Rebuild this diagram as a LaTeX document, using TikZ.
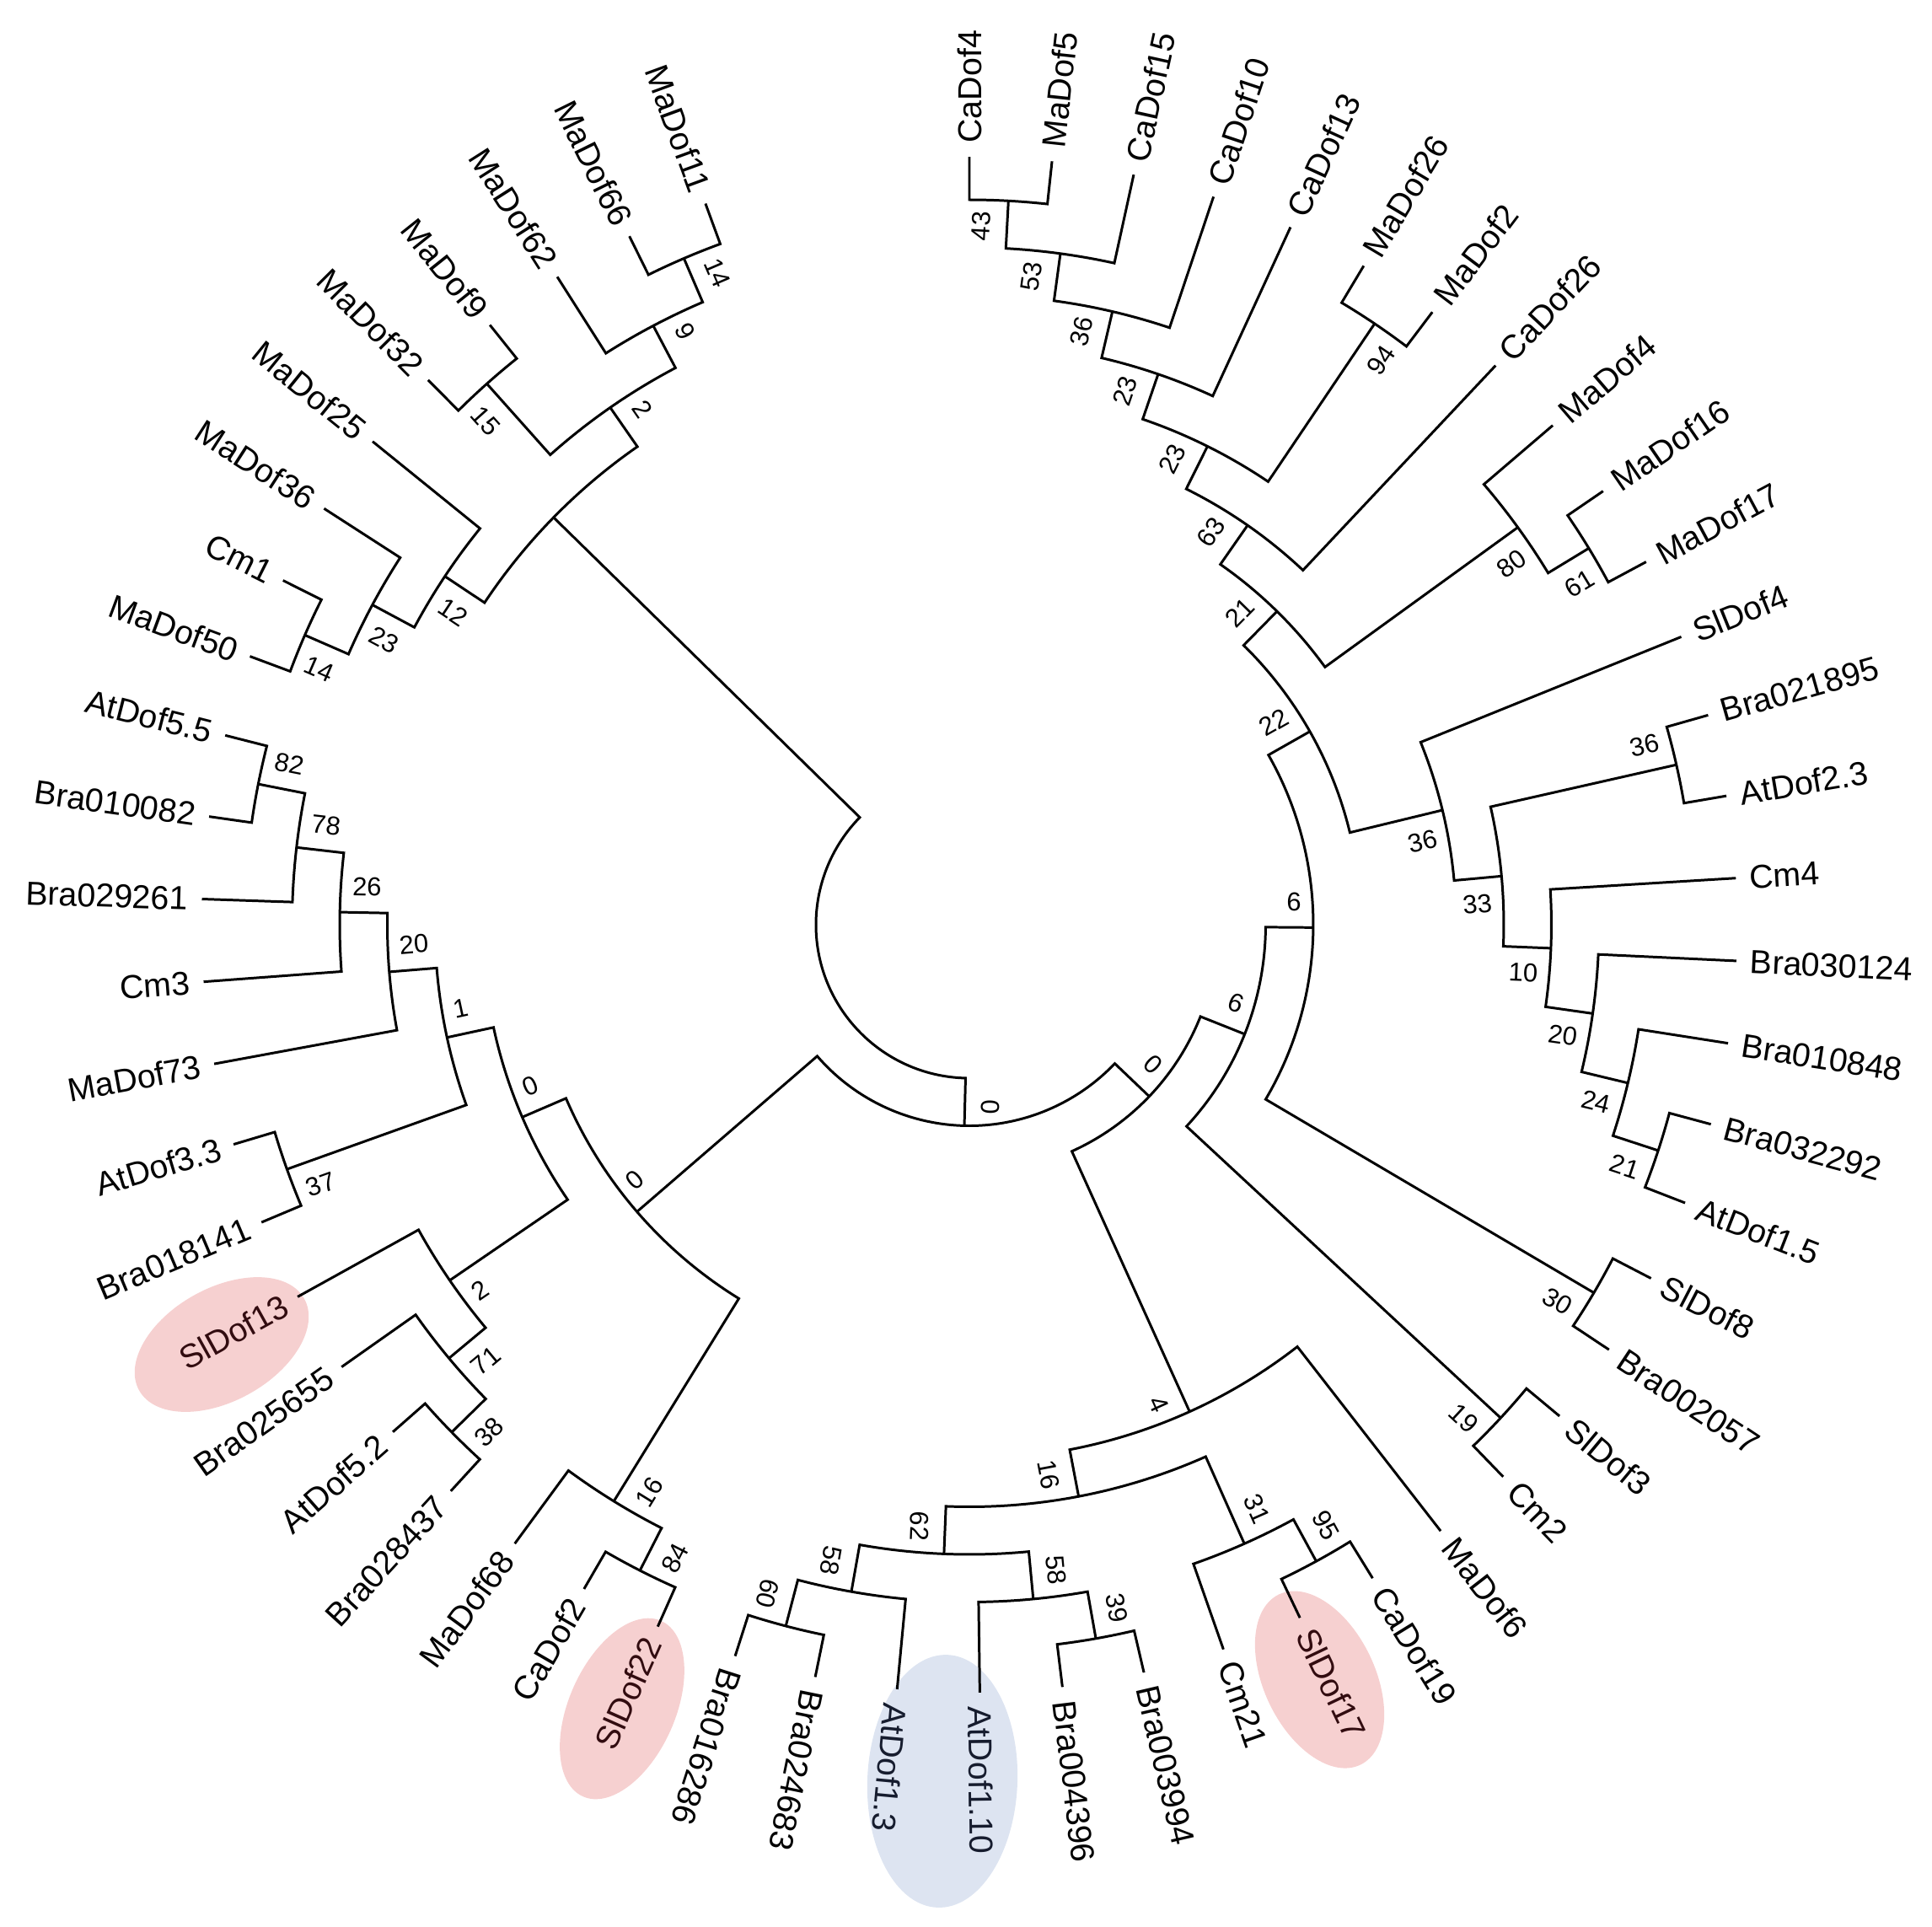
\documentclass[tikz,border=0pt]{standalone}
\usepackage{fontspec}
\setmainfont{Liberation Sans}
\definecolor{slpink}{RGB}{246,208,208}
\definecolor{atblue}{RGB}{221,228,241}
\definecolor{sltext}{RGB}{50,12,16}
\definecolor{attext}{RGB}{22,28,46}
\begin{document}
\begin{tikzpicture}[line width=0.85pt,
    leaf/.style = {font=\fontsize{11.2}{13}\selectfont, inner xsep=0.15cm, inner ysep=0pt},
    bs/.style = {font=\fontsize{8.8}{10}\selectfont, inner xsep=0.05cm, inner ysep=0.18cm}]

	\useasboundingbox (-11.50,-11.88) rectangle (11.42,10.97);

	% highlights
	\fill[slpink, rotate around={29:(-8.87,-4.98)}] (-8.87,-4.98) ellipse [x radius=1.12, y radius=0.67];
	\fill[slpink, rotate around={66.06:(-4.12,-9.30)}] (-4.12,-9.30) ellipse [x radius=1.14, y radius=0.63];
	\fill[slpink, rotate around={-64.5:(4.155,-8.955)}] (4.155,-8.955) ellipse [x radius=1.12, y radius=0.66];
	\fill[atblue, rotate around={-2.3:(-0.32,-10.16)}] (-0.32,-10.16) ellipse [x radius=0.89, y radius=1.50];

	% leaves
	\foreach \i/\txt/\col in {1/CaDof4/black, 2/MaDof5/black, 3/CaDof15/black, 4/CaDof10/black,
	    5/CaDof13/black, 6/MaDof26/black, 7/MaDof2/black, 8/CaDof26/black, 9/MaDof4/black,
	    10/MaDof16/black, 11/MaDof17/black, 12/SlDof4/black, 13/Bra021895/black, 14/AtDof2.3/black,
	    15/Cm4/black, 16/Bra030124/black, 17/Bra010848/black, 18/Bra032292/black, 19/AtDof1.5/black,
	    20/SlDof8/black, 21/Bra002057/black, 22/SlDof3/black, 23/Cm2/black, 24/MaDof6/black,
	    25/CaDof19/black, 26/SlDof17/sltext, 27/Cm21/black, 28/Bra003994/black, 29/Bra004396/black,
	    30/AtDof1.10/attext, 31/AtDof1.3/attext, 32/Bra024683/black, 33/Bra016286/black,
	    34/SlDof22/sltext, 35/CaDof2/black, 36/MaDof68/black, 37/Bra028437/black, 38/AtDof5.2/black,
	    39/Bra025655/black, 40/SlDof13/sltext, 41/Bra018141/black, 42/AtDof3.3/black, 43/MaDof73/black,
	    44/Cm3/black, 45/Bra029261/black, 46/Bra010082/black, 47/AtDof5.5/black, 48/MaDof50/black,
	    49/Cm1/black, 50/MaDof36/black, 51/MaDof25/black, 52/MaDof32/black, 53/MaDof9/black,
	    54/MaDof62/black, 55/MaDof66/black, 56/MaDof11/black} {
		\pgfmathsetmacro\ang{90-(\i-1)*6.18}
		\coordinate (l\i) at (\ang:9.11);
		\ifnum\i<34
			\node[leaf, text=\col, anchor=west, rotate=\ang] (t\i) at (l\i) {\txt};
		\else
			\pgfmathsetmacro\rot{\ang+180}
			\node[leaf, text=\col, anchor=east, rotate=\rot] (t\i) at (l\i) {\txt};
		\fi
	}

	% inner nodes
	\coordinate (n43) at (86.91:8.600);
	\coordinate (n53) at (82.275:8.035);
	\coordinate (n36a) at (76.8675:7.470);
	\coordinate (n23a) at (71.074:6.905);
	\coordinate (n94) at (56.01:8.600);
	\coordinate (n23b) at (63.542:6.340);
	\coordinate (n63) at (55.141:5.775);
	\coordinate (n61) at (31.29:8.600);
	\coordinate (n80) at (35.925:8.035);
	\coordinate (n21a) at (45.533:5.210);
	\coordinate (n36c) at (12.75:8.600);
	\coordinate (n21b) at (-18.15:8.600);
	\coordinate (n24) at (-13.515:8.035);
	\coordinate (n20b) at (-8.1075:7.470);
	\coordinate (n10) at (-2.314:6.905);
	\coordinate (n33) at (5.218:6.340);
	\coordinate (n36b) at (13.619:5.775);
	\coordinate (n22) at (29.576:4.645);
	\coordinate (n30) at (-30.51:8.600);
	\coordinate (n6a) at (-0.467:4.080);
	\coordinate (n19) at (-42.87:8.600);
	\coordinate (n6b) at (-21.669:3.515);
	\coordinate (n95) at (-61.41:8.600);
	\coordinate (n31) at (-66.045:8.035);
	\coordinate (n39) at (-79.95:8.600);
	\coordinate (n58b) at (-84.585:8.035);
	\coordinate (n60) at (-104.67:8.600);
	\coordinate (n58a) at (-100.035:8.035);
	\coordinate (n62) at (-92.31:7.470);
	\coordinate (n16b) at (-79.178:6.905);
	\coordinate (n4) at (-65.659:6.340);
	\coordinate (n0R) at (-43.664:2.950);
	\coordinate (n84) at (-117.03:8.600);
	\coordinate (n16) at (-121.665:8.035);
	\coordinate (n38) at (-135.57:8.600);
	\coordinate (n71) at (-140.205:8.035);
	\coordinate (n2) at (-145.613:7.470);
	\coordinate (n37) at (-160.29:8.600);
	\coordinate (n82) at (-191.19:8.600);
	\coordinate (n78) at (-186.555:8.035);
	\coordinate (n26) at (-181.148:7.470);
	\coordinate (n20) at (-175.354:6.905);
	\coordinate (n1) at (-167.822:6.340);
	\coordinate (n0up) at (-156.717:5.775);
	\coordinate (n0L) at (-139.191:5.210);
	\coordinate (n0bot) at (-91.428:2.385);
	\coordinate (n14b) at (-203.55:8.600);
	\coordinate (n23c) at (-208.185:8.035);
	\coordinate (n12) at (-213.593:7.470);
	\coordinate (n15) at (-228.27:8.600);
	\coordinate (n14a) at (-246.81:8.600);
	\coordinate (n9) at (-242.175:8.035);
	\coordinate (n2t) at (-235.223:7.470);
	\coordinate (nTL) at (-224.408:6.905);

	% branches
	\draw (l1) -- (90:8.6) arc[start angle=90, end angle=83.82, radius=8.6cm] -- (l2);
	\draw (n43) -- (86.91:8.035) arc[start angle=86.91, end angle=77.64, radius=8.035cm] -- (l3);
	\draw (n53) -- (82.275:7.47) arc[start angle=82.275, end angle=71.46, radius=7.47cm] -- (l4);
	\draw (n36a) -- (76.8675:6.905) arc[start angle=76.8675, end angle=65.28, radius=6.905cm] -- (l5);
	\draw (l6) -- (59.1:8.6) arc[start angle=59.1, end angle=52.92, radius=8.6cm] -- (l7);
	\draw (n23a) -- (71.074:6.34) arc[start angle=71.074, end angle=56.01, radius=6.34cm] -- (n94);
	\draw (n23b) -- (63.542:5.775) arc[start angle=63.542, end angle=46.74, radius=5.775cm] -- (l8);
	\draw (l10) -- (34.38:8.6) arc[start angle=34.38, end angle=28.2, radius=8.6cm] -- (l11);
	\draw (l9) -- (40.56:8.035) arc[start angle=40.56, end angle=31.29, radius=8.035cm] -- (n61);
	\draw (n63) -- (55.141:5.21) arc[start angle=55.141, end angle=35.925, radius=5.21cm] -- (n80);
	\draw (l13) -- (15.84:8.6) arc[start angle=15.84, end angle=9.66, radius=8.6cm] -- (l14);
	\draw (l18) -- (-15.06:8.6) arc[start angle=-15.06, end angle=-21.24, radius=8.6cm] -- (l19);
	\draw (l17) -- (-8.88:8.035) arc[start angle=-8.88, end angle=-18.15, radius=8.035cm] -- (n21b);
	\draw (l16) -- (-2.7:7.47) arc[start angle=-2.7, end angle=-13.515, radius=7.47cm] -- (n24);
	\draw (l15) -- (3.48:6.905) arc[start angle=3.48, end angle=-8.1075, radius=6.905cm] -- (n20b);
	\draw (n36c) -- (12.75:6.34) arc[start angle=12.75, end angle=-2.314, radius=6.34cm] -- (n10);
	\draw (l12) -- (22.02:5.775) arc[start angle=22.02, end angle=5.218, radius=5.775cm] -- (n33);
	\draw (n21a) -- (45.533:4.645) arc[start angle=45.533, end angle=13.619, radius=4.645cm] -- (n36b);
	\draw (l20) -- (-27.42:8.6) arc[start angle=-27.42, end angle=-33.6, radius=8.6cm] -- (l21);
	\draw (n22) -- (29.576:4.08) arc[start angle=29.576, end angle=-30.51, radius=4.08cm] -- (n30);
	\draw (l22) -- (-39.78:8.6) arc[start angle=-39.78, end angle=-45.96, radius=8.6cm] -- (l23);
	\draw (n6a) -- (-0.467:3.515) arc[start angle=-0.467, end angle=-42.87, radius=3.515cm] -- (n19);
	\draw (l25) -- (-58.32:8.6) arc[start angle=-58.32, end angle=-64.5, radius=8.6cm] -- (l26);
	\draw (n95) -- (-61.41:8.035) arc[start angle=-61.41, end angle=-70.68, radius=8.035cm] -- (l27);
	\draw (l28) -- (-76.86:8.6) arc[start angle=-76.86, end angle=-83.04, radius=8.6cm] -- (l29);
	\draw (n39) -- (-79.95:8.035) arc[start angle=-79.95, end angle=-89.22, radius=8.035cm] -- (l30);
	\draw (l32) -- (-101.58:8.6) arc[start angle=-101.58, end angle=-107.76, radius=8.6cm] -- (l33);
	\draw (l31) -- (-95.4:8.035) arc[start angle=-95.4, end angle=-104.67, radius=8.035cm] -- (n60);
	\draw (n58b) -- (-84.585:7.47) arc[start angle=-84.585, end angle=-100.035, radius=7.47cm] -- (n58a);
	\draw (n31) -- (-66.045:6.905) arc[start angle=-66.045, end angle=-92.31, radius=6.905cm] -- (n62);
	\draw (l24) -- (-52.14:6.34) arc[start angle=-52.14, end angle=-79.178, radius=6.34cm] -- (n16b);
	\draw (n6b) -- (-21.669:2.95) arc[start angle=-21.669, end angle=-65.659, radius=2.95cm] -- (n4);
	\draw (l34) -- (-113.94:8.6) arc[start angle=-113.94, end angle=-120.12, radius=8.6cm] -- (l35);
	\draw (n84) -- (-117.03:8.035) arc[start angle=-117.03, end angle=-126.3, radius=8.035cm] -- (l36);
	\draw (l37) -- (-132.48:8.6) arc[start angle=-132.48, end angle=-138.66, radius=8.6cm] -- (l38);
	\draw (n38) -- (-135.57:8.035) arc[start angle=-135.57, end angle=-144.84, radius=8.035cm] -- (l39);
	\draw (n71) -- (-140.205:7.47) arc[start angle=-140.205, end angle=-151.02, radius=7.47cm] -- (l40);
	\draw (l41) -- (-157.2:8.6) arc[start angle=-157.2, end angle=-163.38, radius=8.6cm] -- (l42);
	\draw (l46) -- (-188.1:8.6) arc[start angle=-188.1, end angle=-194.28, radius=8.6cm] -- (l47);
	\draw (l45) -- (-181.92:8.035) arc[start angle=-181.92, end angle=-191.19, radius=8.035cm] -- (n82);
	\draw (l44) -- (-175.74:7.47) arc[start angle=-175.74, end angle=-186.555, radius=7.47cm] -- (n78);
	\draw (l43) -- (-169.56:6.905) arc[start angle=-169.56, end angle=-181.148, radius=6.905cm] -- (n26);
	\draw (n37) -- (-160.29:6.34) arc[start angle=-160.29, end angle=-175.354, radius=6.34cm] -- (n20);
	\draw (n2) -- (-145.613:5.775) arc[start angle=-145.613, end angle=-167.822, radius=5.775cm] -- (n1);
	\draw (n16) -- (-121.665:5.21) arc[start angle=-121.665, end angle=-156.717, radius=5.21cm] -- (n0up);
	\draw (n0R) -- (-43.664:2.385) arc[start angle=-43.664, end angle=-139.191, radius=2.385cm] -- (n0L);
	\draw (l48) -- (-200.46:8.6) arc[start angle=-200.46, end angle=-206.64, radius=8.6cm] -- (l49);
	\draw (n14b) -- (-203.55:8.035) arc[start angle=-203.55, end angle=-212.82, radius=8.035cm] -- (l50);
	\draw (n23c) -- (-208.185:7.47) arc[start angle=-208.185, end angle=-219, radius=7.47cm] -- (l51);
	\draw (l52) -- (-225.18:8.6) arc[start angle=-225.18, end angle=-231.36, radius=8.6cm] -- (l53);
	\draw (l55) -- (-243.72:8.6) arc[start angle=-243.72, end angle=-249.9, radius=8.6cm] -- (l56);
	\draw (l54) -- (-237.54:8.035) arc[start angle=-237.54, end angle=-246.81, radius=8.035cm] -- (n14a);
	\draw (n15) -- (-228.27:7.47) arc[start angle=-228.27, end angle=-242.175, radius=7.47cm] -- (n9);
	\draw (n12) -- (-213.593:6.905) arc[start angle=-213.593, end angle=-235.223, radius=6.905cm] -- (n2t);
	\draw (n0bot) -- (-91.428:1.82) arc[start angle=-91.428, end angle=-224.408, radius=1.82cm] -- (nTL);

	% bootstrap values
	\node[bs, anchor=south east, rotate=86.91] (bn43) at (86.91:8.52) {43};
	\node[bs, anchor=south east, rotate=82.275] (bn53) at (82.275:7.955) {53};
	\node[bs, anchor=south east, rotate=76.8675] (bn36a) at (76.8675:7.39) {36};
	\node[bs, anchor=south east, rotate=71.074] (bn23a) at (71.074:6.825) {23};
	\node[bs, anchor=north east, rotate=56.01] (bn94) at (56.01:8.52) {94};
	\node[bs, anchor=south east, rotate=63.542] (bn23b) at (63.542:6.26) {23};
	\node[bs, anchor=south east, rotate=55.141] (bn63) at (55.141:5.695) {63};
	\node[bs, anchor=north east, rotate=31.29] (bn61) at (31.29:8.52) {61};
	\node[bs, anchor=north east, rotate=35.925] (bn80) at (35.925:7.955) {80};
	\node[bs, anchor=south east, rotate=45.533] (bn21a) at (45.533:5.13) {21};
	\node[bs, anchor=south east, rotate=12.75] (bn36c) at (12.75:8.52) {36};
	\node[bs, anchor=north east, rotate=-18.15] (bn21b) at (-18.15:8.52) {21};
	\node[bs, anchor=north east, rotate=-13.515] (bn24) at (-13.515:7.955) {24};
	\node[bs, anchor=north east, rotate=-8.1075] (bn20b) at (-8.1075:7.39) {20};
	\node[bs, anchor=north east, rotate=-2.314] (bn10) at (-2.314:6.825) {10};
	\node[bs, anchor=north east, rotate=5.218] (bn33) at (5.218:6.26) {33};
	\node[bs, anchor=north east, rotate=13.619] (bn36b) at (13.619:5.695) {36};
	\node[bs, anchor=south east, rotate=29.576] (bn22) at (29.576:4.565) {22};
	\node[bs, anchor=north east, rotate=-30.51] (bn30) at (-30.51:8.52) {30};
	\node[bs, anchor=south east, rotate=-0.467] (bn6a) at (-0.467:4.00) {6};
	\node[bs, anchor=north east, rotate=-42.87] (bn19) at (-42.87:8.52) {19};
	\node[bs, anchor=south east, rotate=-21.669] (bn6b) at (-21.669:3.435) {6};
	\node[bs, anchor=south east, rotate=-61.41] (bn95) at (-61.41:8.52) {95};
	\node[bs, anchor=south east, rotate=-66.045] (bn31) at (-66.045:7.955) {31};
	\node[bs, anchor=south east, rotate=-79.95] (bn39) at (-79.95:8.52) {39};
	\node[bs, anchor=south east, rotate=-84.585] (bn58b) at (-84.585:7.955) {58};
	\node[bs, anchor=north east, rotate=-104.67] (bn60) at (-104.67:8.52) {60};
	\node[bs, anchor=north east, rotate=-100.035] (bn58a) at (-100.035:7.955) {58};
	\node[bs, anchor=north east, rotate=-92.31] (bn62) at (-92.31:7.39) {62};
	\node[bs, anchor=north east, rotate=-79.178] (bn16b) at (-79.178:6.825) {16};
	\node[bs, anchor=north east, rotate=-65.659] (bn4) at (-65.659:6.26) {4};
	\node[bs, anchor=south east, rotate=-43.664] (bn0R) at (-43.664:2.87) {0};
	\node[bs, anchor=south east, rotate=-91.428] (bn0bot) at (-91.428:2.305) {0};
	\node[bs, anchor=north west, rotate=62.97] (bn84) at (-117.03:8.52) {84};
	\node[bs, anchor=north west, rotate=58.335] (bn16) at (-121.665:7.955) {16};
	\node[bs, anchor=north west, rotate=44.43] (bn38) at (-135.57:8.52) {38};
	\node[bs, anchor=north west, rotate=39.795] (bn71) at (-140.205:7.955) {71};
	\node[bs, anchor=north west, rotate=34.387] (bn2) at (-145.613:7.39) {2};
	\node[bs, anchor=north west, rotate=19.71] (bn37) at (-160.29:8.52) {37};
	\node[bs, anchor=south west, rotate=-11.19] (bn82) at (-191.19:8.52) {82};
	\node[bs, anchor=south west, rotate=-6.555] (bn78) at (-186.555:7.955) {78};
	\node[bs, anchor=south west, rotate=-1.148] (bn26) at (-181.148:7.39) {26};
	\node[bs, anchor=south west, rotate=4.646] (bn20) at (-175.354:6.825) {20};
	\node[bs, anchor=south west, rotate=12.178] (bn1) at (-167.822:6.26) {1};
	\node[bs, anchor=south west, rotate=23.283] (bn0up) at (-156.717:5.695) {0};
	\node[bs, anchor=south west, rotate=40.809] (bn0L) at (-139.191:5.13) {0};
	\node[bs, anchor=north west, rotate=-23.55] (bn14b) at (-203.55:8.52) {14};
	\node[bs, anchor=north west, rotate=-28.185] (bn23c) at (-208.185:7.955) {23};
	\node[bs, anchor=north west, rotate=-33.593] (bn12) at (-213.593:7.39) {12};
	\node[bs, anchor=north west, rotate=-48.27] (bn15) at (-228.27:8.52) {15};
	\node[bs, anchor=south west, rotate=-66.81] (bn14a) at (-246.81:8.52) {14};
	\node[bs, anchor=south west, rotate=-62.175] (bn9) at (-242.175:7.955) {9};
	\node[bs, anchor=south west, rotate=-55.223] (bn2t) at (-235.223:7.39) {2};
\end{tikzpicture}
\end{document}
